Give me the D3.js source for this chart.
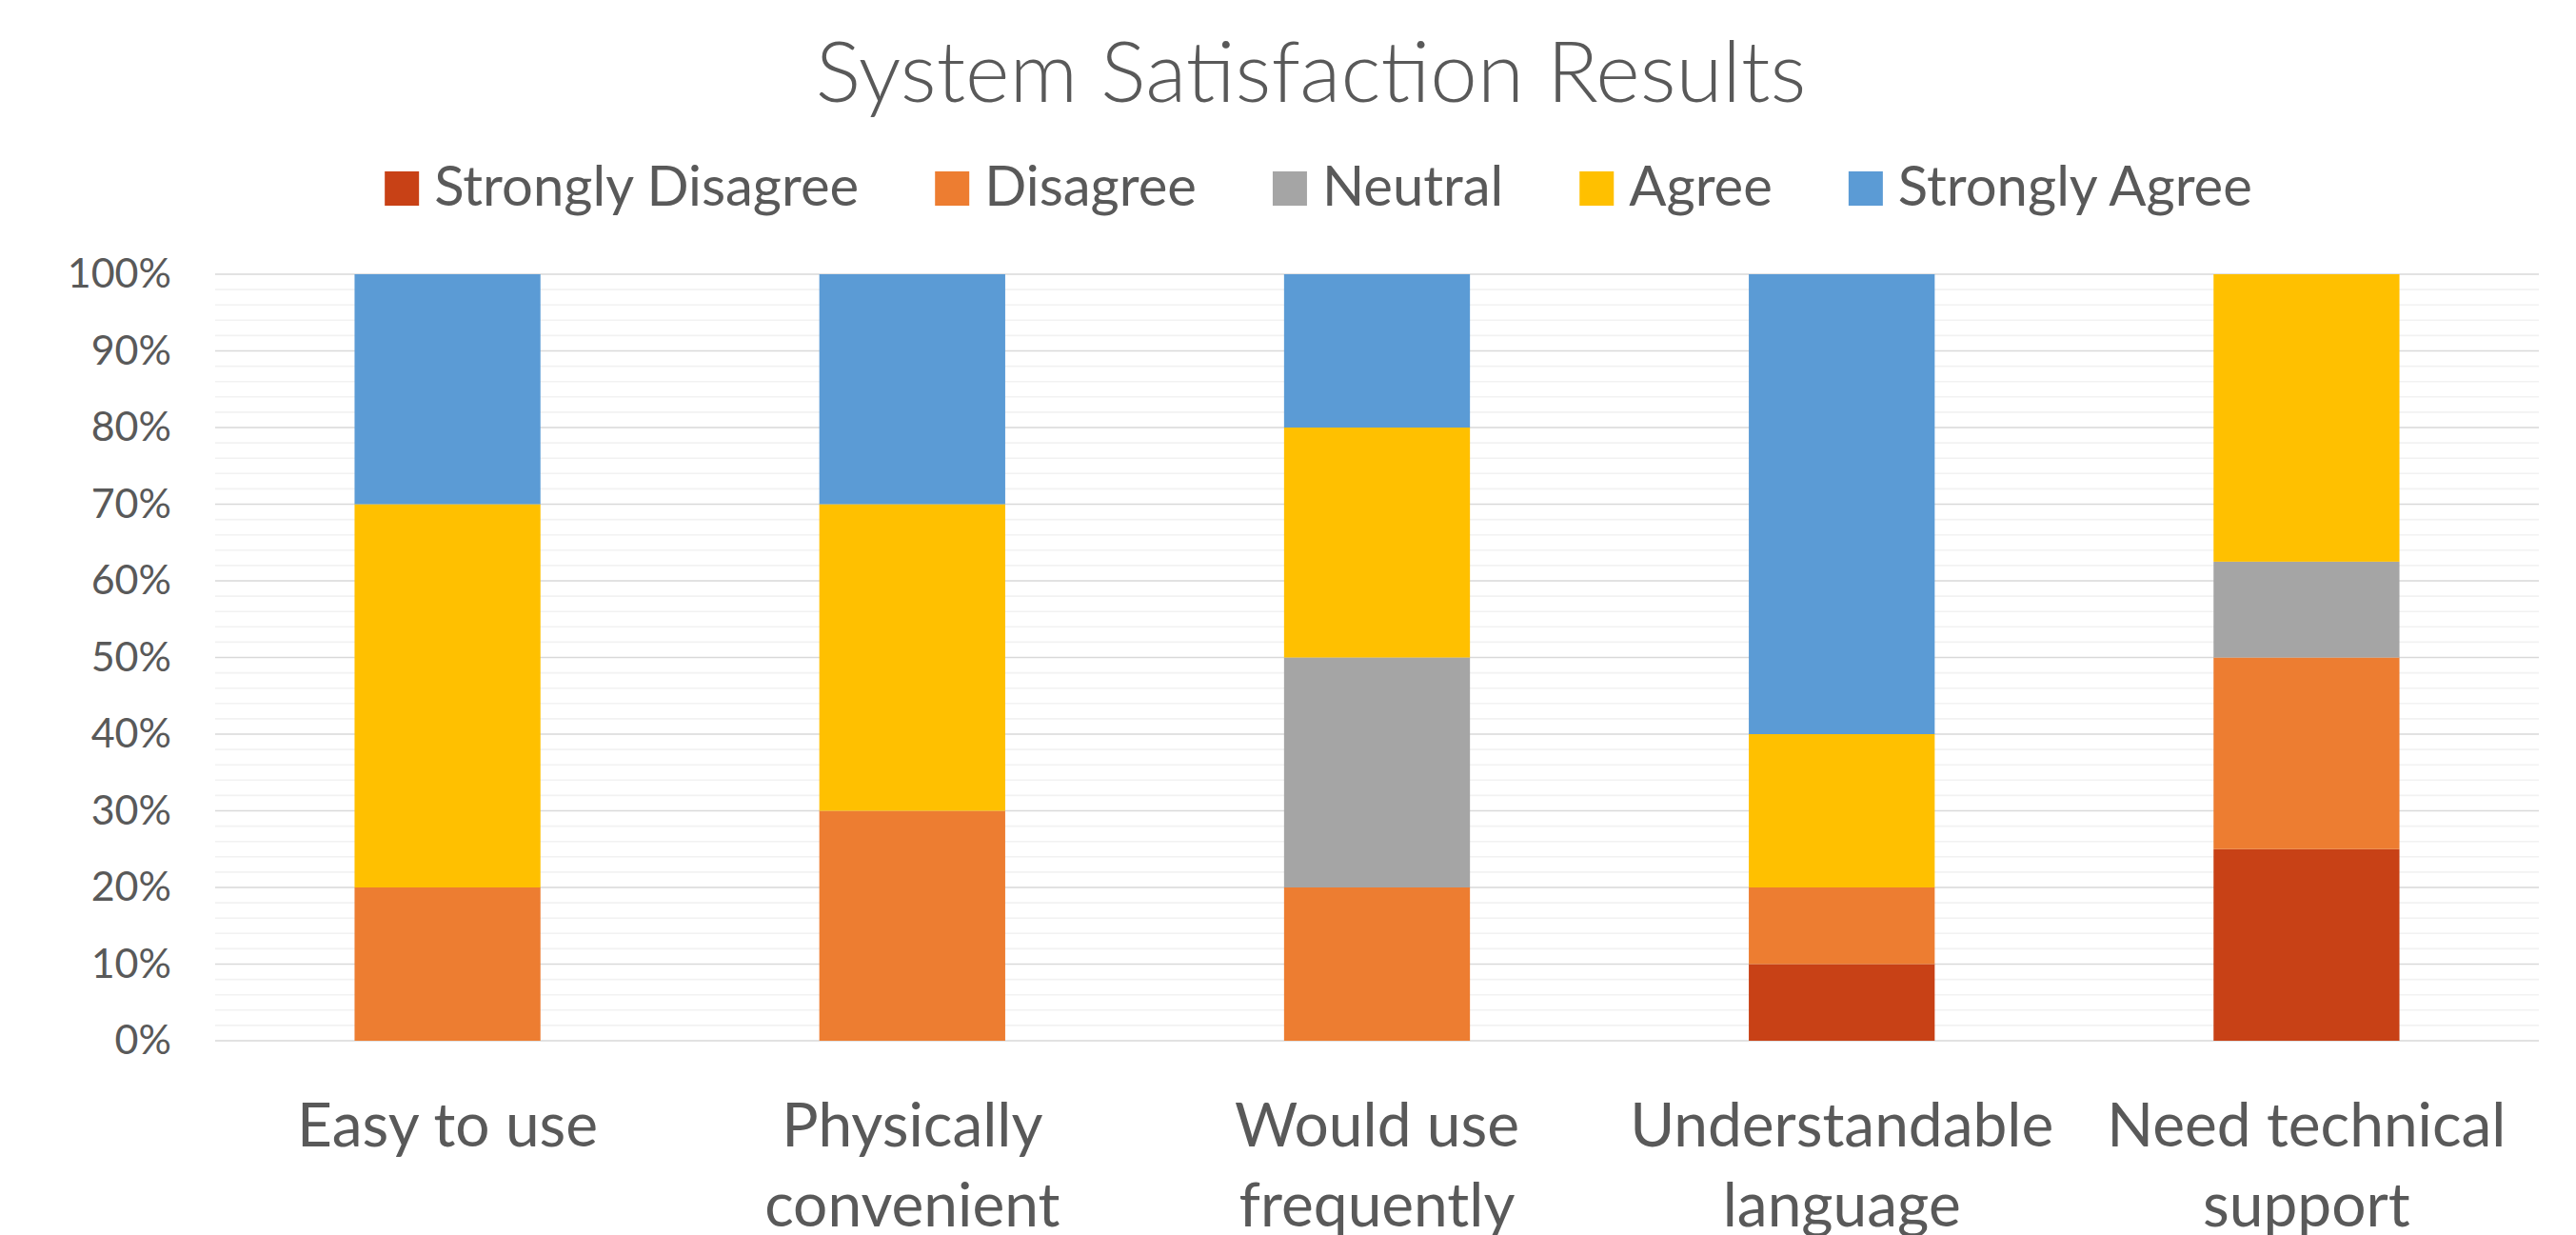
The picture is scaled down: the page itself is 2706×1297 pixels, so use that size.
<!DOCTYPE html>
<html>
<head>
<meta charset="utf-8">
<script src="https://cdn.jsdelivr.net/npm/d3@7"></script>
<style>
  html, body { margin: 0; padding: 0; background: #fff; }
  svg { display: block; }
  text { font-family: Lato, "Open Sans", sans-serif; fill: #595959; }
</style>
</head>
<body>
<svg id="chart" width="2706" height="1297"></svg>
<script>
const title = "System Satisfaction Results";
const categories = ["Easy to use", "Physically convenient", "Would use frequently", "Understandable language", "Need technical support"];
const seriesNames = ["Strongly Disagree", "Disagree", "Neutral", "Agree", "Strongly Agree"];
const seriesColors = ["#C84116", "#ED7D31", "#A5A5A5", "#FFC000", "#5B9BD5"];
const stronglyDisagree = [0, 0, 0, 10, 25];
const disagree = [20, 30, 20, 10, 25];
const neutral = [0, 0, 30, 0, 12.5];
const agree = [50, 40, 30, 20, 37.5];
const stronglyAgree = [30, 30, 20, 60, 0];
const yTicks = [0, 10, 20, 30, 40, 50, 60, 70, 80, 90, 100];
const yMinorTicks = d3.range(0, 101, 2);

const seriesValues = [stronglyDisagree, disagree, neutral, agree, stronglyAgree];
const table = categories.map((c, i) => {
  const row = { category: c };
  seriesNames.forEach((s, j) => { row[s] = seriesValues[j][i]; });
  return row;
});

const svg = d3.select("#chart");
const plot = { left: 226, right: 2667, top: 288, bottom: 1093 };

const x = d3.scaleBand().domain(categories).range([plot.left, plot.right])
  .paddingInner(0.6).paddingOuter(0.3);
const y = d3.scaleLinear().domain([0, 100]).range([plot.bottom, plot.top]);

// minor gridlines
svg.append("g").selectAll("line").data(yMinorTicks.filter(v => v % 10 !== 0)).join("line")
  .attr("x1", plot.left).attr("x2", plot.right)
  .attr("y1", d => y(d)).attr("y2", d => y(d))
  .attr("stroke", "#f2f2f2").attr("stroke-width", 1.6);

// major gridlines
svg.append("g").selectAll("line").data(yTicks).join("line")
  .attr("x1", plot.left).attr("x2", plot.right)
  .attr("y1", d => y(d)).attr("y2", d => y(d))
  .attr("stroke", "#d9d9d9").attr("stroke-width", 1.6);

// y axis labels
const yAxis = d3.axisLeft(y).tickValues(yTicks).tickFormat(d => d + "%").tickSize(0).tickPadding(0);
const yg = svg.append("g").attr("transform", `translate(180,0)`).call(yAxis);
yg.select(".domain").remove();
yg.selectAll("text").style("font-size", "43px").attr("fill", "#595959").style("font-family", "Lato, sans-serif");

// stacked bars
const stack = d3.stack().keys(seriesNames);
const stacked = stack(table);
svg.append("g").selectAll("g").data(stacked).join("g")
  .attr("fill", (d, i) => seriesColors[i])
  .selectAll("rect").data(d => d).join("rect")
  .attr("x", d => x(d.data.category))
  .attr("width", x.bandwidth())
  .attr("y", d => y(d[1]))
  .attr("height", d => Math.max(0, y(d[0]) - y(d[1])));

// category labels with wrapping
const catFont = 64;
const lineGap = 84;
const catG = svg.append("g");
categories.forEach(c => {
  const t = catG.append("text")
    .attr("text-anchor", "middle")
    .attr("x", x(c) + x.bandwidth() / 2)
    .attr("y", 1204)
    .style("font-size", catFont + "px");
  const words = c.split(" ");
  let line = [];
  let tspan = t.append("tspan").attr("x", x(c) + x.bandwidth() / 2).attr("dy", 0);
  words.forEach(w => {
    line.push(w);
    tspan.text(line.join(" "));
    if (tspan.node().getComputedTextLength() > x.step() - 20 && line.length > 1) {
      line.pop();
      tspan.text(line.join(" "));
      line = [w];
      tspan = t.append("tspan").attr("x", x(c) + x.bandwidth() / 2).attr("dy", lineGap).text(w);
    }
  });
});

// title
svg.append("text").attr("x", 1377).attr("y", 107).attr("text-anchor", "middle")
  .style("font-size", "89px").style("font-weight", 300).text(title);

// legend
const legendFont = 58;
const sq = 36, sqGap = 16, itemGap = 80;
const lg = svg.append("g");
const items = lg.selectAll("g").data(seriesNames).join("g");
items.append("rect").attr("width", sq).attr("height", sq).attr("y", 180)
  .attr("fill", (d, i) => seriesColors[i]);
items.append("text").attr("x", sq + sqGap).attr("y", 216)
  .style("font-size", legendFont + "px").text(d => d);
const widths = [];
items.each(function(d) {
  const w = sq + sqGap + d3.select(this).select("text").node().getComputedTextLength();
  widths.push(w);
});
const total = d3.sum(widths) + itemGap * (widths.length - 1);
let cx = 1385 - total / 2;
items.attr("transform", (d, i) => {
  const tx = cx;
  cx += widths[i] + itemGap;
  return `translate(${tx},0)`;
});
</script>
</body>
</html>
